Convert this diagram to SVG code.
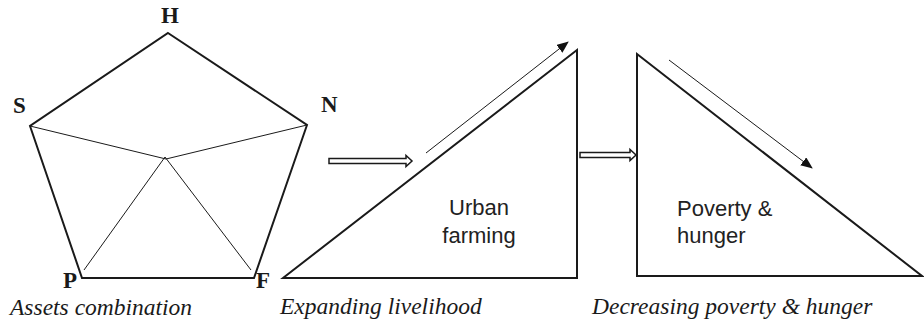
<svg xmlns="http://www.w3.org/2000/svg" width="924" height="324" viewBox="0 0 924 324">
<defs>
<style>
.thick{fill:none;stroke:#1a1a1a;stroke-width:2;stroke-linejoin:miter}
.thin{fill:none;stroke:#1a1a1a;stroke-width:1}
.hollow{fill:#fff;stroke:#1a1a1a;stroke-width:1.5;stroke-linejoin:miter}
.lbl{font-family:"Liberation Serif","Times New Roman",serif;font-weight:bold;font-size:23px;fill:#1a1a1a}
.cap{font-family:"Liberation Serif","Times New Roman",serif;font-style:italic;font-size:23.5px;fill:#1a1a1a}
.inner{font-family:"Liberation Sans",Arial,sans-serif;font-size:22px;fill:#222}
</style>
<marker id="ah" viewBox="0 0 12 10" refX="11" refY="5" markerWidth="12" markerHeight="10" markerUnits="userSpaceOnUse" orient="auto">
<path d="M0,0 L12,5 L0,10 z" fill="#111"/>
</marker>
</defs>
<rect width="924" height="324" fill="#fff"/>
<g id="pentagon">
<polygon class="thick" points="168,33 307,125 254,278 82,278 30,126"/>
<path class="thin" d="M30,126 L166,159 L307,125 M84,270 L165,157 L251,270"/>
<text class="lbl" x="170" y="23" text-anchor="middle" font-size="21">H</text>
<text class="lbl" x="13" y="113">S</text>
<text class="lbl" x="321" y="112">N</text>
<text class="lbl" x="63" y="288">P</text>
<text class="lbl" x="256" y="288">F</text>
<text class="cap" x="10" y="315">Assets combination</text>
</g>
<g id="urban-farming">
<polygon class="thick" points="283,278 577,50 577,278"/>
<text class="inner" x="479" y="215" text-anchor="middle">Urban</text>
<text class="inner" x="479" y="243" text-anchor="middle">farming</text>
<text class="cap" x="280" y="314">Expanding livelihood</text>
</g>
<g id="poverty-hunger">
<polygon class="thick" points="637,54 637,276 922,276"/>
<text class="inner" x="677" y="216">Poverty &amp;</text>
<text class="inner" x="677" y="243">hunger</text>
<text class="cap" x="592" y="314">Decreasing poverty &amp; hunger</text>
</g>
<g id="connectors">
<line class="thin" x1="426" y1="153" x2="568" y2="42" marker-end="url(#ah)"/>
<line class="thin" x1="669" y1="60" x2="812" y2="168" marker-end="url(#ah)"/>
<polygon class="hollow" points="329,158.5 406,158.5 406,155.5 412,161 406,166.5 406,163.5 329,163.5"/>
<polygon class="hollow" points="580,152.5 630,152.5 630,149.5 636,155 630,160.5 630,157.5 580,157.5"/>
</g>
</svg>
